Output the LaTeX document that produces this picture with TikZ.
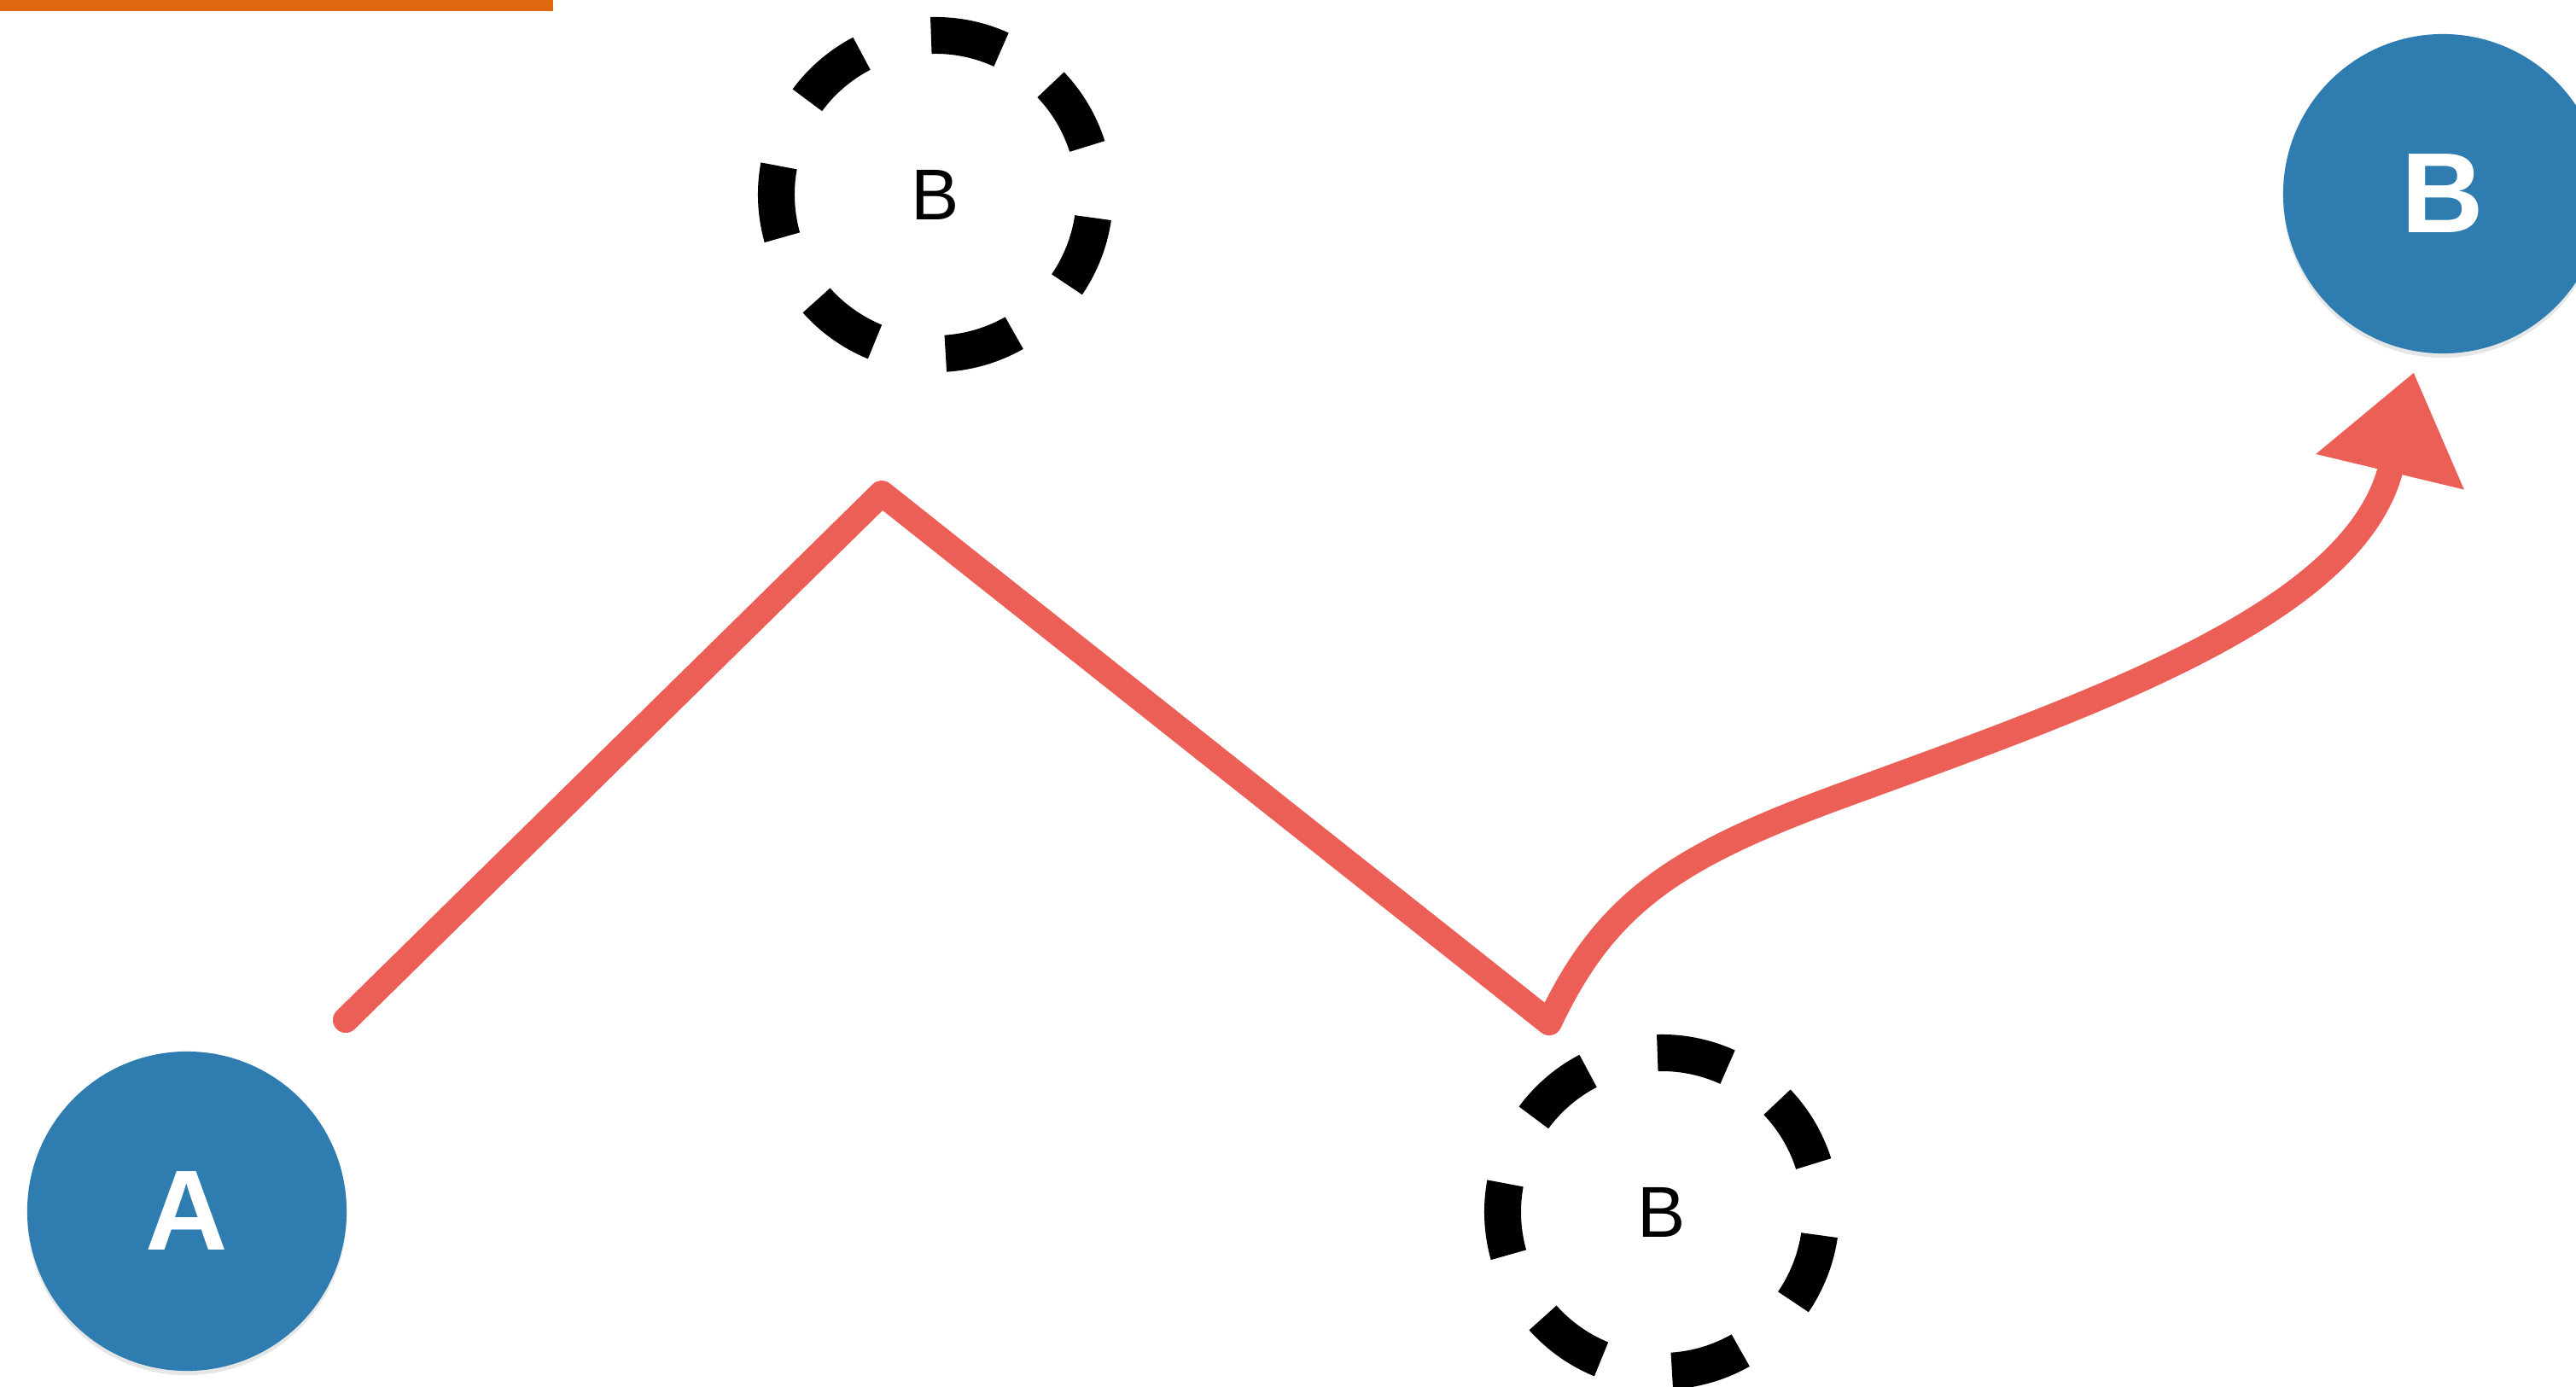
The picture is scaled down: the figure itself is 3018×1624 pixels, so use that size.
\documentclass[tikz,border=0pt]{standalone}
\usepackage{fontspec}
\setmainfont{Liberation Sans}
\usepackage{tikz}
\usetikzlibrary{arrows.meta,shadows}
\definecolor{dotblue}{HTML}{2E7CB0}
\definecolor{chalkred}{HTML}{EC5F57}
\definecolor{barorange}{HTML}{E0680F}

\begin{document}
\begin{tikzpicture}[x=0.01cm,y=0.01cm,
    dot/.style={circle,fill=dotblue,minimum size=3.74cm,inner sep=0pt,text=white,
        font=\fontsize{38}{40}\selectfont\bfseries,
        drop shadow={shadow xshift=0pt,shadow yshift=-0.05cm,opacity=0.2}},
    ghost/.style={inner sep=0pt,font=\fontsize{24}{26}\selectfont},
    ring/.style={line width=0.43cm,dash pattern=on 0.846cm off 0.846cm},
    chalk/.style={draw=chalkred,line width=0.3cm,line join=round,line cap=round}
]
\useasboundingbox (0,0) rectangle (3018,-1624);
\fill[barorange] (0,0) rectangle (648,-13);
\node[dot] (a) at (219,-1419) {A};
\node[dot] (b) at (2862,-227) {B};
\node[ghost] (b1) at (1096,-228) {B};
\node[ghost] (b2) at (1947,-1420) {B};
% dashed rings round the two in-between spots
\foreach \g in {b1,b2}
  \draw[ring] (\g.center) ++(65.6:186.5) arc[start angle=65.6,delta angle=360,radius=186.5];
\coordinate (start) at (405,-1195);
\coordinate (peak) at (1033,-578);
\coordinate (valley) at (1815,-1198);
\coordinate (tip) at (2828,-436);
\draw[chalk,-{Triangle[length=1.2cm,width=1.7cm]}] (start) -- (peak) -- (valley)
    .. controls (1880,-1060) and (1960,-1005) .. (2150,-935)
    .. controls (2450,-825) and (2760,-720) .. (tip);
\end{tikzpicture}
\end{document}
